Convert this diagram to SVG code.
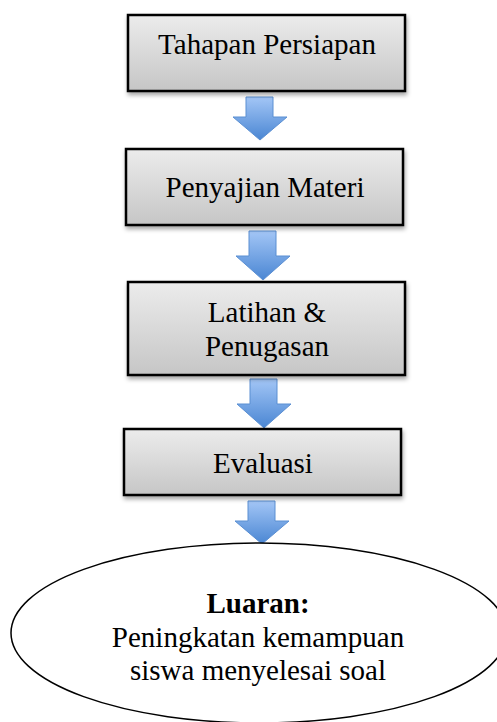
<svg xmlns="http://www.w3.org/2000/svg" width="497" height="722" viewBox="0 0 497 722">
<defs>
<linearGradient id="boxg" x1="0" y1="0" x2="0" y2="1">
<stop offset="0" stop-color="#ececec"/>
<stop offset="1" stop-color="#c6c6c6"/>
</linearGradient>
<linearGradient id="arrg" x1="0" y1="0" x2="0" y2="1">
<stop offset="0" stop-color="#a3c6f6"/>
<stop offset="1" stop-color="#4a86d3"/>
</linearGradient>
<filter id="sh" x="-10%" y="-10%" width="125%" height="140%">
<feDropShadow dx="1" dy="3" stdDeviation="2" flood-color="#000" flood-opacity="0.35"/>
</filter>
</defs>
<style>
.box{fill:url(#boxg);stroke:#000;stroke-width:2.5;filter:url(#sh)}
.arr{fill:url(#arrg);stroke:#5b8fd2;stroke-width:1}
.t{font-size:29px;fill:#000;text-anchor:middle}
.b{font-weight:bold}
.ell{fill:#fff;stroke:#000;stroke-width:1.5}
</style>
<g id="connectors">
<path class="arr" d="M246,97 H273 V117 H287 L260,140 L233,117 H246 Z"/>
<path class="arr" d="M249,231 H276 V256 H290 L263,280 L236,256 H249 Z"/>
<path class="arr" d="M250,379 H277 V404 H291 L264,428 L237,404 H250 Z"/>
<path class="arr" d="M248,501 H275 V521 H289 L262,544 L235,521 H248 Z"/>
</g>
<g font-family="'Liberation Serif', 'Times New Roman', 'DejaVu Serif', serif">
<g id="n1">
<rect class="box" x="128" y="15" width="277" height="76"/>
<text class="t" x="267" y="54">Tahapan Persiapan</text>
</g>
<g id="n2">
<rect class="box" x="126" y="149" width="277" height="76"/>
<text class="t" x="265" y="197">Penyajian Materi</text>
</g>
<g id="n3">
<rect class="box" x="128" y="282" width="277" height="93"/>
<text class="t" x="267" y="322">Latihan &amp;</text>
<text class="t" x="267" y="356">Penugasan</text>
</g>
<g id="n4">
<rect class="box" x="124" y="429" width="277" height="66"/>
<text class="t" x="263" y="473">Evaluasi</text>
</g>
<g id="n5">
<ellipse class="ell" cx="259" cy="633" rx="248" ry="90"/>
<text class="t b" x="258" y="613">Luaran:</text>
<text class="t" x="258" y="647">Peningkatan kemampuan</text>
<text class="t" x="258" y="680">siswa menyelesai soal</text>
</g>
</g>
</svg>
